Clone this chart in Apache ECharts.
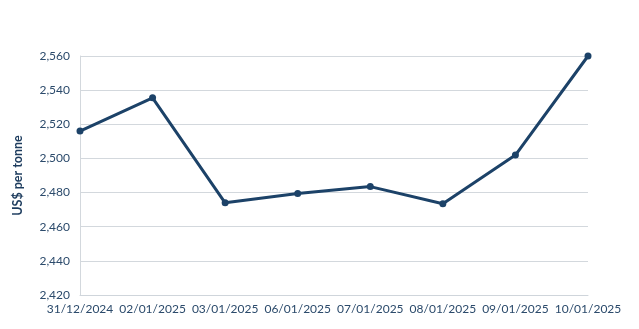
<!DOCTYPE html>
<html><head><meta charset="utf-8">
<style>html,body{margin:0;padding:0;background:#fff}#c{width:639px;height:329px}</style>
<script src="https://cdn.jsdelivr.net/npm/echarts@6/dist/echarts.min.js"></script>
</head><body><div id="c"></div>
<script>
const categories = ['31/12/2024','02/01/2025','03/01/2025','06/01/2025','07/01/2025','08/01/2025','09/01/2025','10/01/2025'];
const prices = [2516, 2535.5, 2474, 2479.5, 2483.5, 2473.5, 2502, 2560];
const yName = 'US$ per tonne';
const chart = echarts.init(document.getElementById('c'), null, {renderer:'canvas'});
chart.setOption({
  animation:false,
  grid:{left:80,right:51,top:56,bottom:34,containLabel:false},
  xAxis:{type:'category',data:categories,boundaryGap:false,
    axisLine:{show:true,lineStyle:{color:'#cfd5db'}},axisTick:{show:false},
    axisLabel:{color:'#2b4a6b',fontFamily:'Lato',fontSize:12,margin:8,interval:0},
    splitLine:{show:false}},
  yAxis:{type:'value',min:2420,max:2560,interval:20,name:yName,nameLocation:'middle',nameGap:56,
    nameTextStyle:{color:'#1d3c5e',fontFamily:'Lato',fontSize:12.5,fontWeight:'bold'},
    axisLine:{show:true,lineStyle:{color:'#d3d8dd'}},axisTick:{show:false},
    axisLabel:{color:'#2b4a6b',fontFamily:'Lato',fontSize:12,margin:10,
      formatter:v=>v.toLocaleString('en-US')},
    splitLine:{lineStyle:{color:'#d3d8dd'}}},
  series:[{type:'line',data:prices,symbol:'circle',symbolSize:7,
    lineStyle:{color:'#1c4268',width:3},itemStyle:{color:'#1c4268'}}]
});
</script></body></html>
